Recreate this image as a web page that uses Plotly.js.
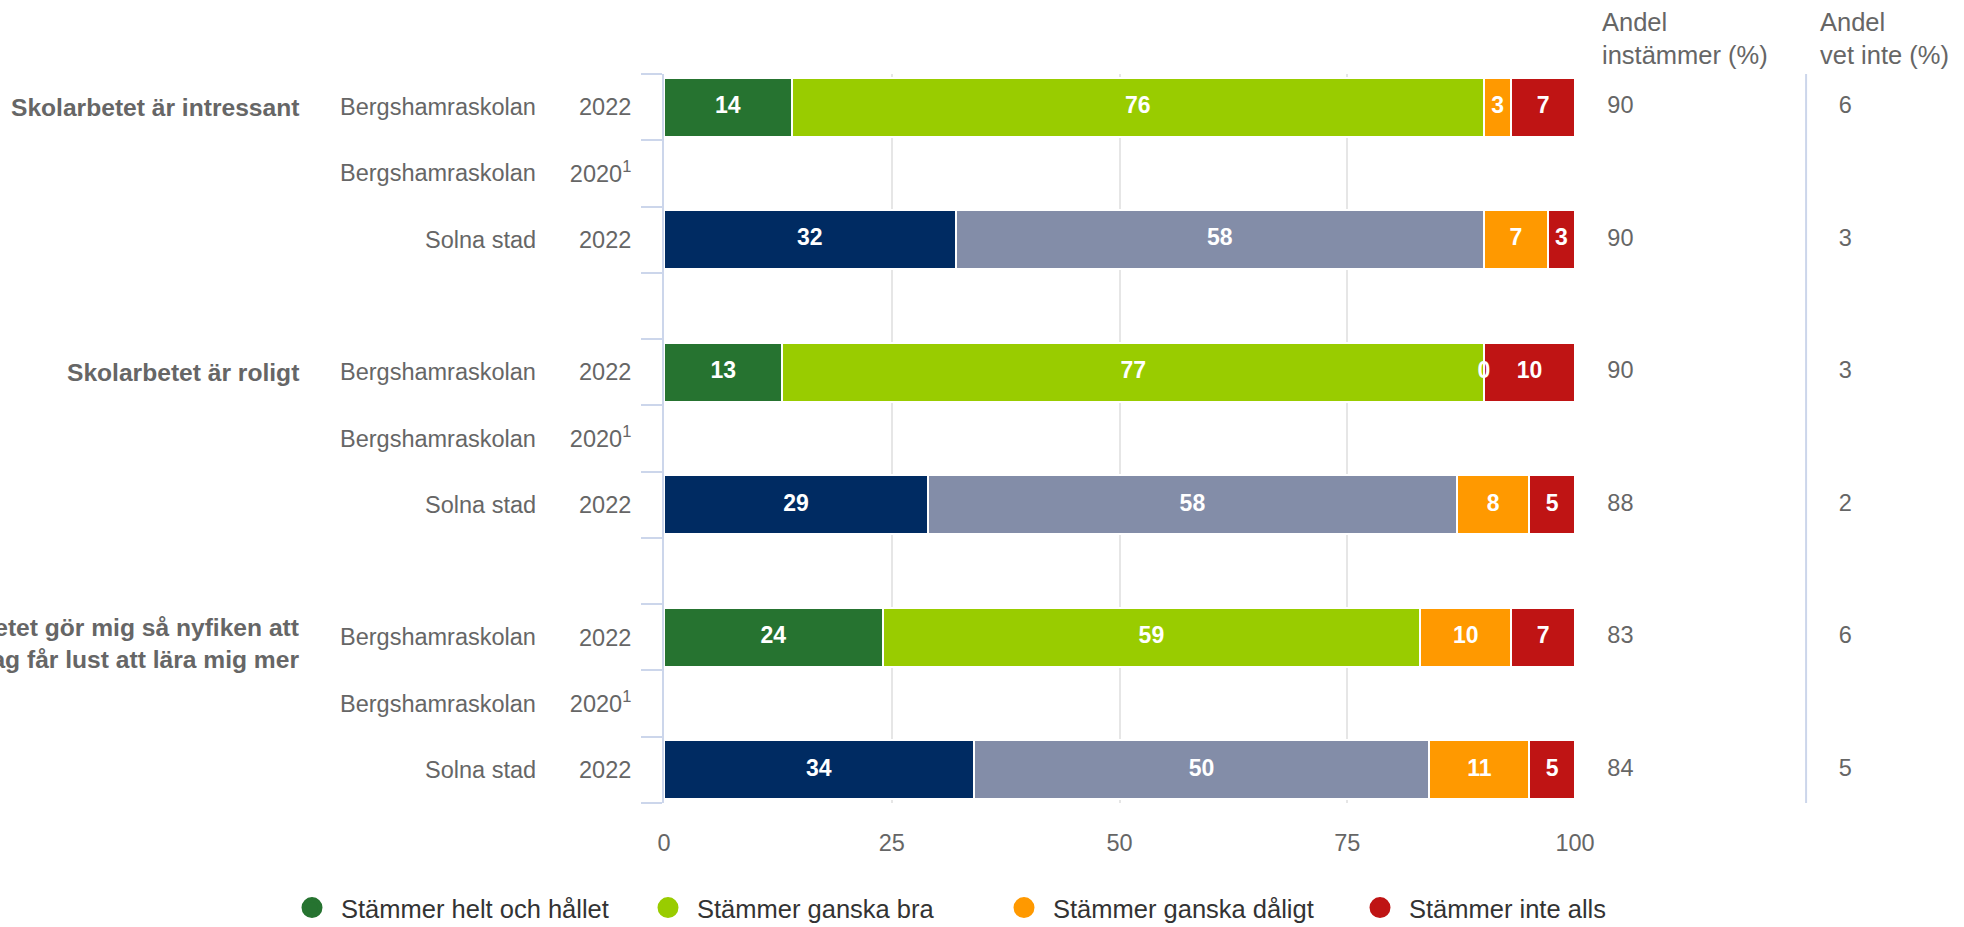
<!DOCTYPE html>
<html>
<head>
<meta charset="utf-8">
<script src="https://cdn.plot.ly/plotly-3.0.1.min.js"></script>
<style>html,body{margin:0;padding:0;background:#fff;overflow:hidden;width:1964px;height:927px;}#chart{width:1964px;height:936px;}</style>
</head>
<body>
<div id="chart"></div>
<script>
// ---- data ----
const questions = [
  "Skolarbetet är intressant",
  "Skolarbetet är roligt",
  "Skolarbetet gör mig så nyfiken att<br>jag får lust att lära mig mer"
];
const units = ["Bergshamraskolan", "Bergshamraskolan", "Solna stad"];
const years = ["2022", "2020<sup>1</sup>", "2022"];
const seriesNames = ["Stämmer helt och hållet", "Stämmer ganska bra", "Stämmer ganska dåligt", "Stämmer inte alls"];
// values per question, per unit row (null = no data)
const heltOchHallet = [[14, null, 32], [13, null, 29], [24, null, 34]];
const ganskaBra     = [[76, null, 58], [77, null, 58], [59, null, 50]];
const ganskaDaligt  = [[3, null, 7],   [0, null, 8],   [10, null, 11]];
const inteAlls      = [[7, null, 3],   [10, null, 5],  [7, null, 5]];
const andelInstammer = [[90, null, 90], [90, null, 88], [83, null, 84]];
const andelVetInte   = [[6, null, 3],   [3, null, 2],   [6, null, 5]];

// ---- styles ----
const schoolColors = ["#267330", "#99cc00", "#ff9900", "#bf1414"];
const cityColors   = ["#002b62", "#838da8", "#ff9900", "#bf1414"];
const FONT = "Liberation Sans, Arial, Helvetica, sans-serif";
const GREY = "#666666";

const allSeries = [heltOchHallet, ganskaBra, ganskaDaligt, inteAlls];

// build category ids
const cats = [], tickText = [], rowQ = [], rowU = [];
questions.forEach((q, qi) => {
  units.forEach((u, ui) => {
    cats.push("q" + qi + "u" + ui); tickText.push(years[ui]); rowQ.push(qi); rowU.push(ui);
  });
  if (qi < questions.length - 1) { cats.push("gap" + qi); tickText.push(" "); rowQ.push(null); rowU.push(null); }
});
const dataRows = cats.map((c, i) => ({c, q: rowQ[i], u: rowU[i]})).filter(r => r.q !== null);

const traces = [];
allSeries.forEach((ser, si) => {
  const ys = [], xs = [], cols = [];
  dataRows.forEach(r => {
    ys.push(r.c); xs.push(ser[r.q][r.u]);
    cols.push(r.u === 2 ? cityColors[si] : schoolColors[si]);
  });
  traces.push({
    type: "bar", orientation: "h", name: seriesNames[si], y: ys, x: xs,
    marker: {color: cols, line: {color: "#ffffff", width: 2}},
    showlegend: false, hoverinfo: "skip", xaxis: "x", yaxis: "y"
  });
});

// data labels at segment centres
const lblX = [], lblY = [], lblT = [];
dataRows.forEach(r => {
  let cum = 0;
  allSeries.forEach(ser => {
    const v = ser[r.q][r.u];
    if (v === null) return;
    lblX.push(cum + v / 2); lblY.push(r.c); lblT.push(String(v));
    cum += v;
  });
});
traces.push({
  type: "scatter", mode: "text", x: lblX, y: lblY, text: lblT,
  textposition: "middle center", cliponaxis: false,
  textfont: {family: FONT, size: 23, color: "#ffffff", weight: "bold"},
  showlegend: false, hoverinfo: "skip", xaxis: "x", yaxis: "y"
});

// right-hand columns
const colInstX = 0.083, colVetX = 0.678;
const iY = [], iT = [], vY = [], vT = [];
dataRows.forEach(r => {
  const a = andelInstammer[r.q][r.u], b = andelVetInte[r.q][r.u];
  if (a !== null) { iY.push(r.c); iT.push(String(a)); }
  if (b !== null) { vY.push(r.c); vT.push(String(b)); }
});
traces.push({
  type: "scatter", mode: "text", x: iY.map(() => colInstX), y: iY, text: iT,
  textposition: "middle right", cliponaxis: false,
  textfont: {family: FONT, size: 23.5, color: GREY},
  showlegend: false, hoverinfo: "skip", xaxis: "x2", yaxis: "y"
});
traces.push({
  type: "scatter", mode: "text", x: vY.map(() => colVetX), y: vY, text: vT,
  textposition: "middle right", cliponaxis: false,
  textfont: {family: FONT, size: 23.5, color: GREY},
  showlegend: false, hoverinfo: "skip", xaxis: "x2", yaxis: "y"
});

// legend entries (circles)
seriesNames.forEach((n, si) => {
  traces.push({
    type: "scatter", mode: "markers", name: n, x: [null], y: [null],
    marker: {symbol: "circle", size: 16, color: schoolColors[si], line: {color: schoolColors[si], width: 5}},
    showlegend: true, hoverinfo: "skip", xaxis: "x", yaxis: "y"
  });
});

// annotations: unit names + questions
const annotations = [];
dataRows.forEach(r => {
  annotations.push({
    xref: "paper", yref: "y", x: -0.0966, y: r.c, xanchor: "right", yanchor: "middle",
    text: units[r.u], showarrow: false, font: {family: FONT, size: 23.5, color: GREY}
  });
});
questions.forEach((q, qi) => {
  annotations.push({
    xref: "paper", yref: "y", x: -0.279, y: "q" + qi + "u0", xanchor: "right", yanchor: "middle",
    align: "right", text: q, showarrow: false, yshift: qi === 2 ? -6 : 0,
    font: {family: FONT, size: 24.6, color: GREY, weight: "bold"}
  });
});
annotations.push({
  xref: "x2", yref: "paper", x: 0.064, y: 1.093, xanchor: "left", yanchor: "top", align: "left",
  text: "Andel<br>instämmer (%)", showarrow: false, font: {family: FONT, size: 25.5, color: GREY}
});
annotations.push({
  xref: "x2", yref: "paper", x: 0.625, y: 1.093, xanchor: "left", yanchor: "top", align: "left",
  text: "Andel<br>vet inte (%)", showarrow: false, font: {family: FONT, size: 25.5, color: GREY}
});

const layout = {
  width: 1964, height: 936,
  margin: {l: 664, r: 0, t: 74, b: 133, pad: 0},
  paper_bgcolor: "#ffffff", plot_bgcolor: "#ffffff",
  barmode: "stack", bargap: 0.11,
  font: {family: FONT, color: GREY},
  xaxis: {
    domain: [0, 0.7008], range: [0, 100], tickvals: [0, 25, 50, 75, 100],
    showgrid: true, gridcolor: "#e6e6e6", gridwidth: 2, zeroline: false, showline: false,
    ticks: "", ticklabelstandoff: 23, tickfont: {family: FONT, size: 23.5, color: GREY}, fixedrange: true
  },
  xaxis2: {domain: [0.7008, 1], range: [0, 1], visible: false, anchor: "y", fixedrange: true},
  yaxis: {
    type: "category", categoryorder: "array", categoryarray: cats,
    range: [cats.length - 0.5, -0.5], autorange: false,
    tickvals: cats, ticktext: tickText, tickson: "boundaries",
    ticks: "outside", ticklen: 21, tickwidth: 2, tickcolor: "#ccd6eb", ticklabelstandoff: 26,
    showline: true, linecolor: "#ccd6eb", linewidth: 2, showgrid: false, zeroline: false,
    tickfont: {family: FONT, size: 23.5, color: GREY}, fixedrange: true
  },
  shapes: [{
    type: "line", xref: "x2", yref: "y domain", x0: 0.594, x1: 0.594, y0: 0, y1: 1,
    line: {color: "#ccd6eb", width: 2}
  }],
  annotations: annotations,
  showlegend: true,
  legend: {
    orientation: "h", traceorder: "normal", xref: "paper", yref: "paper",
    x: (283 - 664) / 1300, y: (803 - 908) / 729,
    xanchor: "left", yanchor: "middle", itemwidth: 48, entrywidth: 293, entrywidthmode: "pixels",
    font: {family: FONT, size: 25.5, color: "#333333"}, bgcolor: "rgba(0,0,0,0)", borderwidth: 0
  }
};

Plotly.newPlot("chart", traces, layout, {staticPlot: true, displayModeBar: false});
</script>
</body>
</html>
